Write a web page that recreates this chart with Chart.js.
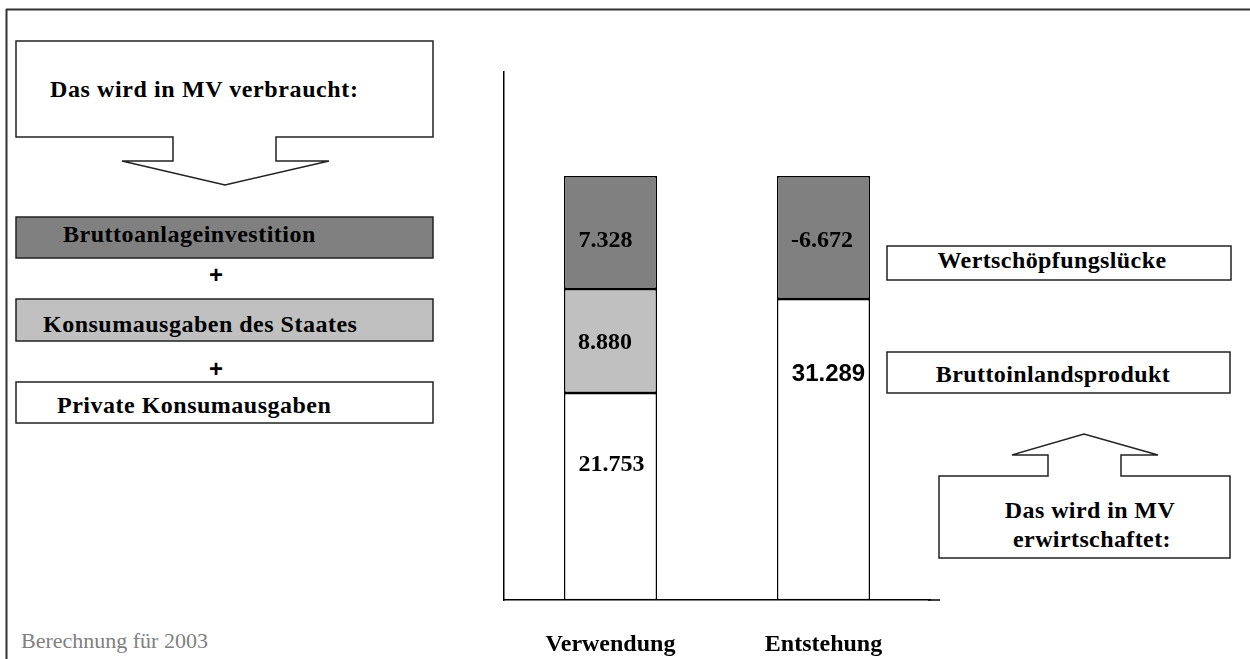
<!DOCTYPE html>
<html>
<head>
<meta charset="utf-8">
<script src="https://cdn.jsdelivr.net/npm/chart.js@4"></script>
<style>
 html,body{margin:0;padding:0;background:#fff;}
 #wrap{position:relative;width:1250px;height:659px;overflow:hidden;}
 #chart{position:absolute;left:0;top:0;}
 svg{position:absolute;left:0;top:0;}
 .b{font-family:"Liberation Serif","Times New Roman",serif;font-weight:bold;font-size:24px;fill:#000;}
</style>
</head>
<body>
<div id="wrap">
<svg width="1250" height="659">
 <line x1="6" y1="9.5" x2="1250" y2="9.5" stroke="#333" stroke-width="2"/>
 <line x1="6.5" y1="9" x2="6.5" y2="659" stroke="#333" stroke-width="2"/>
 <path d="M16,41 H433 V137 H276 V161 H329 L225,185 L122,161 H173 V137 H16 Z" fill="#fff" stroke="#222" stroke-width="1.5"/>
 <text class="b" x="50" y="97" letter-spacing="0.6">Das wird in MV verbraucht:</text>
 <rect x="16" y="217" width="417" height="41" fill="#808080" stroke="#222" stroke-width="1.5"/>
 <text class="b" x="63" y="242" letter-spacing="0.5">Bruttoanlageinvestition</text>
 <text x="216" y="283" text-anchor="middle" font-family="Liberation Sans,Arial,sans-serif" font-weight="bold" font-size="24">+</text>
 <rect x="16" y="299" width="417" height="42" fill="#c0c0c0" stroke="#222" stroke-width="1.5"/>
 <text class="b" x="43" y="332" letter-spacing="0.5">Konsumausgaben des Staates</text>
 <text x="216" y="377" text-anchor="middle" font-family="Liberation Sans,Arial,sans-serif" font-weight="bold" font-size="24">+</text>
 <rect x="16" y="382" width="417" height="41" fill="#fff" stroke="#222" stroke-width="1.5"/>
 <text class="b" x="57" y="413" letter-spacing="0.5">Private Konsumausgaben</text>
 <rect x="887" y="246" width="344" height="34" fill="#fff" stroke="#222" stroke-width="1.5"/>
 <text class="b" x="1052" y="268" text-anchor="middle" letter-spacing="0.4">Wertschöpfungslücke</text>
 <rect x="887" y="352" width="343" height="41" fill="#fff" stroke="#222" stroke-width="1.5"/>
 <text class="b" x="1053" y="382" text-anchor="middle" letter-spacing="0.4">Bruttoinlandsprodukt</text>
 <path d="M939,476 H1048 V455 H1012 L1084,434 L1158,455 H1121 V476 H1230 V558 H939 Z" fill="#fff" stroke="#222" stroke-width="1.5"/>
 <text class="b" x="1090" y="518" text-anchor="middle" letter-spacing="0.4">Das wird in MV</text>
 <text class="b" x="1092" y="547" text-anchor="middle" letter-spacing="0.4">erwirtschaftet:</text>
 <line x1="928" y1="600" x2="940" y2="600" stroke="#000" stroke-width="1.5"/>
 <text x="21" y="648" font-family="Liberation Serif,Times New Roman,serif" font-size="22" fill="#808080">Berechnung für 2003</text>
</svg>
<canvas id="chart" width="1250" height="659"></canvas>
</div>
<script>
// Kategorien und Segmenthöhen (Balken sind nicht maßstäblich)
const categories = ["Verwendung", "Entstehung"];
const privatKonsum = [20.7, 30.1];   // weißes Segment
const staatKonsum = [10.4, 0];       // hellgrau
const investition = [11.3, 12.3];    // dunkelgrau / Wertschöpfungslücke
const yMax = 52.8;

// Beschriftungen der Segmente
const labelsPrivat = ["21.753", "31.289"];
const labelsStaat = ["8.880", ""];
const labelsInvest = ["7.328", "-6.672"];

// Versatz der Beschriftungen (nur Layout)
const labelShift = [
 [[1, -31.5], [5, -75.5]],
 [[-5.5, 2], [0, 0]],
 [[-5, 8.5], [-1.5, 3.5]]
];
const labelFont = [
 ['bold 24px "Liberation Serif"', 'bold 24px "Liberation Sans"'],
 ['bold 24px "Liberation Serif"', 'bold 24px "Liberation Serif"'],
 ['bold 24px "Liberation Serif"', 'bold 24px "Liberation Serif"']
];
const allLabels = [labelsPrivat, labelsStaat, labelsInvest];

const segLabels = {
 id: "segLabels",
 afterDatasetsDraw(c){
  const ctx = c.ctx;
  ctx.save();
  ctx.fillStyle = "#000";
  ctx.textAlign = "center";
  ctx.textBaseline = "middle";
  allLabels.forEach((arr, di) => {
   const meta = c.getDatasetMeta(di);
   arr.forEach((txt, i) => {
    if(!txt) return;
    const el = meta.data[i];
    const cy = (el.y + el.base) / 2;
    ctx.font = labelFont[di][i];
    ctx.fillText(txt, el.x + labelShift[di][i][0], cy + labelShift[di][i][1]);
   });
  });
  ctx.restore();
 }
};

const ds = (data, color) => ({
 data, backgroundColor: color, borderColor: "#000", borderWidth: 1.5,
 borderSkipped: false, barPercentage: 0.437, categoryPercentage: 1
});

new Chart(document.getElementById("chart"), {
 type: "bar",
 data: {
  labels: categories,
  datasets: [ds(privatKonsum, "#ffffff"), ds(staatKonsum, "#c0c0c0"), ds(investition, "#808080")]
 },
 options: {
  responsive: false,
  animation: false,
  layout: {padding: {left: 504, right: 320, top: 72, bottom: -30}},
  plugins: {legend: {display: false}, tooltip: {enabled: false}},
  scales: {
   x: {
    stacked: true,
    grid: {display: false, drawTicks: false},
    border: {display: true, color: "#000", width: 1.5},
    ticks: {color: "#000", padding: 30, font: {family: "Liberation Serif", weight: "bold", size: 24, lineHeight: 1.2}}
   },
   y: {
    stacked: true, min: 0, max: yMax,
    grid: {display: false, drawTicks: false},
    border: {display: true, color: "#000", width: 1.5},
    ticks: {display: false}
   }
  }
 },
 plugins: [segLabels]
});
</script>
</body>
</html>
